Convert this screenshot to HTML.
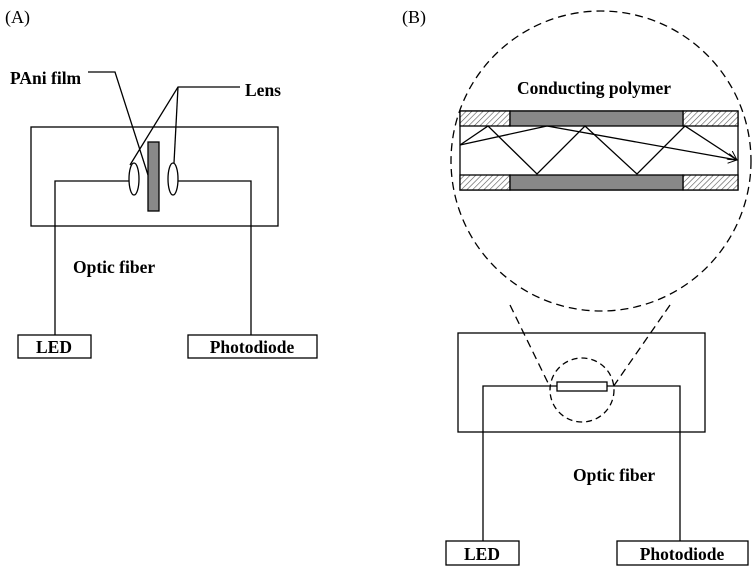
<!DOCTYPE html>
<html><head><style>body{margin:0;background:#fff}svg{display:block}</style></head><body>
<svg width="755" height="573" viewBox="0 0 755 573" xmlns="http://www.w3.org/2000/svg" font-family="Liberation Serif, serif">
<defs><pattern id="h" width="4" height="4" patternUnits="userSpaceOnUse" patternTransform="rotate(45)"><rect width="4" height="4" fill="#fff"/><line x1="0" y1="0" x2="0" y2="4" stroke="#555" stroke-width="1.2"/></pattern>
<marker id="ar" markerWidth="10" markerHeight="10" refX="9" refY="5" orient="auto" markerUnits="userSpaceOnUse"><path d="M0,0 L9,5 L0,10" fill="none" stroke="#000" stroke-width="1"/></marker></defs>
<g stroke="#000" stroke-width="1.3" fill="none">
<text x="5" y="23" font-size="18" fill="#000" stroke="none">(A)</text>
<rect x="31" y="127" width="247" height="99"/>
<polyline points="55,335 55,181 129,181"/>
<polyline points="178,181 251,181 251,335"/>
<ellipse cx="134" cy="179" rx="5" ry="16" fill="#fff"/>
<ellipse cx="173" cy="179" rx="5" ry="16" fill="#fff"/>
<rect x="148" y="142" width="11" height="69" fill="#888"/>
<polyline points="88,72 115,72 148,175"/>
<polyline points="240,87 178,87 130,165"/>
<line x1="178" y1="87" x2="174" y2="163"/>
<rect x="18" y="335" width="73" height="23"/>
<rect x="188" y="335" width="129" height="23"/>
<text x="10" y="84" font-size="17.5" font-weight="bold" fill="#000" stroke="none">PAni film</text>
<text x="245" y="96" font-size="17.5" font-weight="bold" fill="#000" stroke="none">Lens</text>
<text x="73" y="273" font-size="17.5" font-weight="bold" fill="#000" stroke="none">Optic fiber</text>
<text x="54" y="353" font-size="17.5" font-weight="bold" fill="#000" stroke="none" text-anchor="middle">LED</text>
<text x="252" y="353" font-size="17.5" font-weight="bold" fill="#000" stroke="none" text-anchor="middle">Photodiode</text>

<text x="402" y="23" font-size="18" fill="#000" stroke="none">(B)</text>
<circle cx="601" cy="161" r="150" stroke-dasharray="8,5"/>
<line x1="510" y1="305" x2="550" y2="387" stroke-dasharray="8,5"/>
<line x1="670" y1="305" x2="613" y2="387" stroke-dasharray="8,5"/>
<text x="594" y="94" font-size="17.5" font-weight="bold" fill="#000" stroke="none" text-anchor="middle">Conducting polymer</text>
<rect x="460" y="111" width="278" height="79" fill="#fff"/>
<rect x="460" y="111" width="50" height="15" fill="url(#h)"/>
<rect x="683" y="111" width="55" height="15" fill="url(#h)"/>
<rect x="510" y="111" width="173" height="15" fill="#888"/>
<rect x="460" y="175" width="50" height="15" fill="url(#h)"/>
<rect x="683" y="175" width="55" height="15" fill="url(#h)"/>
<rect x="510" y="175" width="173" height="15" fill="#888"/>
<polyline points="460,145 488,126 537,174 585,126 637,174 685,126 737,160" marker-end="url(#ar)"/>
<polyline points="460,145 547,126 737,160" marker-end="url(#ar)"/>
<rect x="458" y="333" width="247" height="99"/>
<polyline points="483,541 483,386 557,386"/>
<polyline points="607,386 680,386 680,541"/>
<rect x="557" y="382" width="50" height="9" fill="#fff"/>
<circle cx="582" cy="390" r="32" stroke-dasharray="6,4"/>
<rect x="446" y="541" width="73" height="24"/>
<rect x="617" y="541" width="131" height="24"/>
<text x="573" y="481" font-size="17.5" font-weight="bold" fill="#000" stroke="none">Optic fiber</text>
<text x="482" y="560" font-size="17.5" font-weight="bold" fill="#000" stroke="none" text-anchor="middle">LED</text>
<text x="682" y="560" font-size="17.5" font-weight="bold" fill="#000" stroke="none" text-anchor="middle">Photodiode</text>
</g>
</svg>
</body></html>
